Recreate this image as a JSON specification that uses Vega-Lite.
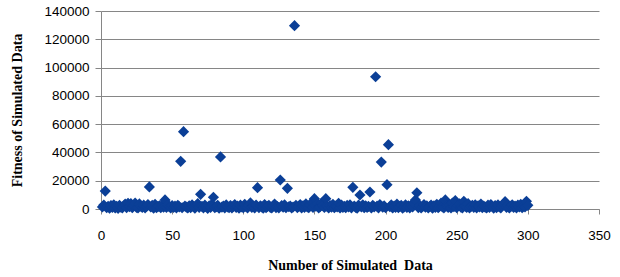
{
  "$schema": "https://vega.github.io/schema/vega-lite/v6.json",
  "width": 498,
  "height": 198,
  "autosize": {"type": "none"},
  "padding": {"left": 101, "top": 11, "right": 21, "bottom": 68},
  "background": "white",
  "config": {"view": {"stroke": null}},
  "data": {"values": [
    {"x":1,"y":1500},{"x":2,"y":2800},{"x":3,"y":12700},{"x":4,"y":900},{"x":5,"y":1900},{"x":6,"y":600},{"x":7,"y":2400},{"x":8,"y":1100},{"x":9,"y":3000},{"x":10,"y":700},
    {"x":11,"y":1800},{"x":12,"y":500},{"x":13,"y":2600},{"x":14,"y":1300},{"x":15,"y":800},{"x":16,"y":2200},{"x":17,"y":3500},{"x":18,"y":1000},{"x":19,"y":4000},{"x":20,"y":1600},
    {"x":21,"y":3800},{"x":22,"y":900},{"x":23,"y":2300},{"x":24,"y":4200},{"x":25,"y":1200},{"x":26,"y":700},{"x":27,"y":3600},{"x":28,"y":2000},{"x":29,"y":1100},{"x":30,"y":2700},
    {"x":31,"y":800},{"x":32,"y":1900},{"x":33,"y":3100},{"x":34,"y":15600},{"x":35,"y":1400},{"x":36,"y":2500},{"x":37,"y":600},{"x":38,"y":3300},{"x":39,"y":1000},{"x":40,"y":1700},
    {"x":41,"y":2200},{"x":42,"y":900},{"x":43,"y":2800},{"x":44,"y":1300},{"x":45,"y":6400},{"x":46,"y":1100},{"x":47,"y":3000},{"x":48,"y":1700},{"x":49,"y":700},{"x":50,"y":2400},
    {"x":51,"y":1200},{"x":52,"y":2000},{"x":53,"y":800},{"x":54,"y":2600},{"x":55,"y":1500},{"x":56,"y":33700},{"x":57,"y":900},{"x":58,"y":54700},{"x":59,"y":2100},{"x":60,"y":1300},
    {"x":61,"y":700},{"x":62,"y":2300},{"x":63,"y":1000},{"x":64,"y":3000},{"x":65,"y":1600},{"x":66,"y":600},{"x":67,"y":2500},{"x":68,"y":3800},{"x":69,"y":1200},{"x":70,"y":10400},
    {"x":71,"y":1900},{"x":72,"y":800},{"x":73,"y":2700},{"x":74,"y":1400},{"x":75,"y":500},{"x":76,"y":2200},{"x":77,"y":1100},{"x":78,"y":3400},{"x":79,"y":8300},{"x":80,"y":900},
    {"x":81,"y":1700},{"x":82,"y":2600},{"x":83,"y":600},{"x":84,"y":36800},{"x":85,"y":1300},{"x":86,"y":2100},{"x":87,"y":800},{"x":88,"y":2900},{"x":89,"y":1500},{"x":90,"y":1000},
    {"x":91,"y":2400},{"x":92,"y":700},{"x":93,"y":1800},{"x":94,"y":3200},{"x":95,"y":1100},{"x":96,"y":2000},{"x":97,"y":600},{"x":98,"y":2700},{"x":99,"y":1400},{"x":100,"y":900},
    {"x":101,"y":3300},{"x":102,"y":1600},{"x":103,"y":800},{"x":104,"y":2500},{"x":105,"y":4300},{"x":106,"y":1200},{"x":107,"y":2000},{"x":108,"y":700},{"x":109,"y":2800},{"x":110,"y":15100},
    {"x":111,"y":1000},{"x":112,"y":2300},{"x":113,"y":1500},{"x":114,"y":600},{"x":115,"y":3100},{"x":116,"y":900},{"x":117,"y":1900},{"x":118,"y":2600},{"x":119,"y":1200},{"x":120,"y":700},
    {"x":121,"y":2200},{"x":122,"y":3500},{"x":123,"y":1000},{"x":124,"y":1700},{"x":125,"y":800},{"x":126,"y":20500},{"x":127,"y":2400},{"x":128,"y":1300},{"x":129,"y":3000},{"x":130,"y":900},
    {"x":131,"y":14600},{"x":132,"y":1600},{"x":133,"y":2100},{"x":134,"y":700},{"x":135,"y":1400},{"x":136,"y":129600},{"x":137,"y":2600},{"x":138,"y":1000},{"x":139,"y":1800},{"x":140,"y":3200},
    {"x":141,"y":800},{"x":142,"y":2300},{"x":143,"y":1200},{"x":144,"y":3600},{"x":145,"y":1500},{"x":146,"y":900},{"x":147,"y":2700},{"x":148,"y":4500},{"x":149,"y":1100},{"x":150,"y":7300},
    {"x":151,"y":2000},{"x":152,"y":3900},{"x":153,"y":800},{"x":154,"y":1600},{"x":155,"y":4200},{"x":156,"y":2500},{"x":157,"y":1100},{"x":158,"y":7300},{"x":159,"y":1900},{"x":160,"y":700},
    {"x":161,"y":2400},{"x":162,"y":1300},{"x":163,"y":3300},{"x":164,"y":900},{"x":165,"y":2000},{"x":166,"y":1500},{"x":167,"y":4000},{"x":168,"y":700},{"x":169,"y":2800},{"x":170,"y":1200},
    {"x":171,"y":1800},{"x":172,"y":900},{"x":173,"y":2500},{"x":174,"y":1400},{"x":175,"y":3000},{"x":176,"y":800},{"x":177,"y":15300},{"x":178,"y":2100},{"x":179,"y":1200},{"x":180,"y":600},
    {"x":181,"y":2700},{"x":182,"y":9900},{"x":183,"y":1500},{"x":184,"y":3000},{"x":185,"y":900},{"x":186,"y":2300},{"x":187,"y":1100},{"x":188,"y":1800},{"x":189,"y":12000},{"x":190,"y":700},
    {"x":191,"y":2600},{"x":192,"y":1400},{"x":193,"y":93500},{"x":194,"y":2000},{"x":195,"y":800},{"x":196,"y":3100},{"x":197,"y":33200},{"x":198,"y":1300},{"x":199,"y":2200},{"x":200,"y":900},
    {"x":201,"y":17200},{"x":202,"y":45500},{"x":203,"y":1600},{"x":204,"y":2900},{"x":205,"y":700},{"x":206,"y":2100},{"x":207,"y":1200},{"x":208,"y":3400},{"x":209,"y":900},{"x":210,"y":1800},
    {"x":211,"y":2500},{"x":212,"y":600},{"x":213,"y":1500},{"x":214,"y":3000},{"x":215,"y":1100},{"x":216,"y":2300},{"x":217,"y":800},{"x":218,"y":2700},{"x":219,"y":1400},{"x":220,"y":3900},
    {"x":221,"y":6400},{"x":222,"y":11500},{"x":223,"y":1000},{"x":224,"y":2400},{"x":225,"y":700},{"x":226,"y":1900},{"x":227,"y":3100},{"x":228,"y":1300},{"x":229,"y":2200},{"x":230,"y":800},
    {"x":231,"y":1700},{"x":232,"y":2800},{"x":233,"y":600},{"x":234,"y":2300},{"x":235,"y":1200},{"x":236,"y":3300},{"x":237,"y":900},{"x":238,"y":2000},{"x":239,"y":4100},{"x":240,"y":1500},
    {"x":241,"y":800},{"x":242,"y":6400},{"x":243,"y":2200},{"x":244,"y":1100},{"x":245,"y":2900},{"x":246,"y":700},{"x":247,"y":4200},{"x":248,"y":1600},{"x":249,"y":5900},{"x":250,"y":1000},
    {"x":251,"y":2400},{"x":252,"y":3600},{"x":253,"y":1300},{"x":254,"y":800},{"x":255,"y":5500},{"x":256,"y":2000},{"x":257,"y":1100},{"x":258,"y":3800},{"x":259,"y":700},{"x":260,"y":1900},
    {"x":261,"y":2600},{"x":262,"y":1200},{"x":263,"y":3000},{"x":264,"y":800},{"x":265,"y":2200},{"x":266,"y":1500},{"x":267,"y":3500},{"x":268,"y":900},{"x":269,"y":2000},{"x":270,"y":1300},
    {"x":271,"y":700},{"x":272,"y":2700},{"x":273,"y":1100},{"x":274,"y":3200},{"x":275,"y":1800},{"x":276,"y":600},{"x":277,"y":2400},{"x":278,"y":1000},{"x":279,"y":2900},{"x":280,"y":1400},
    {"x":281,"y":800},{"x":282,"y":2300},{"x":283,"y":3600},{"x":284,"y":5200},{"x":285,"y":1200},{"x":286,"y":2600},{"x":287,"y":700},{"x":288,"y":1900},{"x":289,"y":3000},{"x":290,"y":1100},
    {"x":291,"y":2100},{"x":292,"y":800},{"x":293,"y":2800},{"x":294,"y":1400},{"x":295,"y":3300},{"x":296,"y":900},{"x":297,"y":2200},{"x":298,"y":1500},{"x":299,"y":5400},{"x":300,"y":2600}
  ]},
  "mark": {"type": "point", "shape": "diamond", "filled": true, "size": 125, "color": "#0B3F97", "opacity": 1},
  "encoding": {
    "x": {
      "field": "x", "type": "quantitative",
      "scale": {"domain": [0, 350], "nice": false, "zero": true},
      "axis": {
        "values": [0, 50, 100, 150, 200, 250, 300, 350],
        "grid": false, "domainColor": "#868686", "tickColor": "#868686", "tickSize": 5,
        "labelFont": "Liberation Sans", "labelFontSize": 13.5, "labelColor": "#000000", "labelPadding": 14,
        "labelFlush": false,
        "title": "Number of Simulated\u00a0 Data", "titleFont": "Liberation Serif", "titleFontSize": 14,
        "titleFontWeight": "bold", "titleColor": "#000000", "titlePadding": 17
      }
    },
    "y": {
      "field": "y", "type": "quantitative",
      "scale": {"domain": [0, 140000], "nice": false},
      "axis": {
        "values": [0, 20000, 40000, 60000, 80000, 100000, 120000, 140000],
        "format": "d",
        "grid": true, "gridColor": "#868686", "gridWidth": 1,
        "domainColor": "#868686", "tickColor": "#868686", "tickSize": 6,
        "labelFont": "Liberation Sans", "labelFontSize": 13.5, "labelColor": "#000000", "labelPadding": 6,
        "labelFlush": false,
        "title": "Fitness of Simulated Data", "titleFont": "Liberation Serif", "titleFontSize": 14,
        "titleFontWeight": "bold", "titleColor": "#000000", "titlePadding": 19
      }
    }
  }
}
